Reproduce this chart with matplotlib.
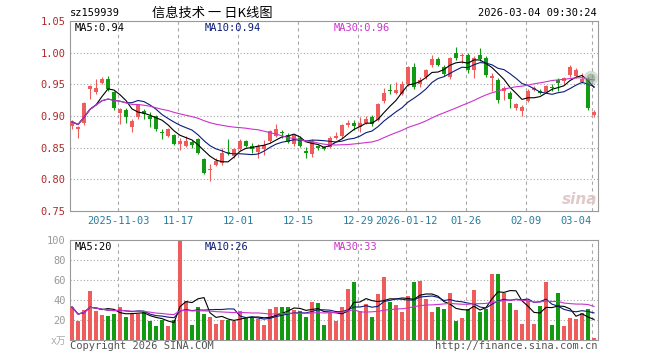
import numpy as np
import pandas as pd
import matplotlib
matplotlib.use("Agg")
import matplotlib.pyplot as plt
from matplotlib import transforms

# daily K data
opens = [0.884, 0.880, 0.889, 0.942, 0.938, 0.952, 0.959, 0.938, 0.904, 0.910,
         0.882, 0.899, 0.908, 0.900, 0.900, 0.875, 0.869, 0.870, 0.856, 0.853,
         0.859, 0.863, 0.832, 0.814, 0.822, 0.826, 0.843, 0.837, 0.848, 0.860,
         0.852, 0.843, 0.848, 0.860, 0.869, 0.875, 0.870, 0.856, 0.866, 0.845,
         0.840, 0.852, 0.851, 0.851, 0.866, 0.869, 0.886, 0.889, 0.883, 0.889,
         0.899, 0.894, 0.923, 0.941, 0.936, 0.935, 0.950, 0.978, 0.950, 0.961,
         0.980, 0.990, 0.978, 0.961, 1.000, 0.994, 0.997, 0.973, 0.997, 0.992,
         0.960, 0.957, 0.940, 0.937, 0.913, 0.908, 0.924, 0.941, 0.940, 0.938,
         0.946, 0.957, 0.955, 0.964, 0.963, 0.954, 0.958, 0.902]
closes = [0.891, 0.882, 0.921, 0.948, 0.945, 0.958, 0.942, 0.912, 0.911, 0.899,
          0.892, 0.917, 0.903, 0.895, 0.879, 0.873, 0.880, 0.856, 0.860, 0.860,
          0.855, 0.842, 0.810, 0.816, 0.829, 0.842, 0.841, 0.848, 0.861, 0.853,
          0.848, 0.852, 0.855, 0.876, 0.879, 0.873, 0.859, 0.870, 0.853, 0.841,
          0.861, 0.850, 0.848, 0.866, 0.869, 0.886, 0.889, 0.884, 0.889, 0.895,
          0.887, 0.919, 0.937, 0.939, 0.941, 0.950, 0.978, 0.946, 0.957, 0.973,
          0.990, 0.981, 0.966, 0.991, 0.992, 0.996, 0.972, 0.992, 0.990, 0.965,
          0.963, 0.926, 0.945, 0.927, 0.919, 0.914, 0.939, 0.945, 0.936, 0.947,
          0.944, 0.952, 0.960, 0.977, 0.973, 0.958, 0.912, 0.906]
highs = [0.893, 0.884, 0.922, 0.949, 0.959, 0.961, 0.963, 0.940, 0.913, 0.912,
         0.895, 0.918, 0.911, 0.907, 0.902, 0.879, 0.881, 0.872, 0.866, 0.869,
         0.862, 0.865, 0.833, 0.824, 0.833, 0.849, 0.864, 0.850, 0.863, 0.862,
         0.857, 0.856, 0.862, 0.878, 0.887, 0.878, 0.873, 0.872, 0.868, 0.851,
         0.863, 0.854, 0.853, 0.868, 0.874, 0.888, 0.893, 0.893, 0.898, 0.900,
         0.901, 0.921, 0.944, 0.950, 0.954, 0.955, 0.979, 0.983, 0.962, 0.975,
         0.997, 0.993, 0.981, 0.993, 1.009, 0.999, 1.000, 0.995, 1.007, 0.995,
         0.968, 0.960, 0.948, 0.939, 0.921, 0.918, 0.942, 0.947, 0.943, 0.949,
         0.951, 0.960, 0.962, 0.981, 0.976, 0.968, 0.962, 0.910]
lows = [0.880, 0.866, 0.886, 0.927, 0.935, 0.950, 0.940, 0.909, 0.887, 0.889,
        0.875, 0.896, 0.895, 0.882, 0.876, 0.864, 0.867, 0.854, 0.847, 0.851,
        0.850, 0.840, 0.808, 0.798, 0.821, 0.823, 0.838, 0.834, 0.846, 0.851,
        0.842, 0.833, 0.838, 0.858, 0.867, 0.866, 0.857, 0.852, 0.851, 0.834,
        0.835, 0.847, 0.846, 0.849, 0.864, 0.866, 0.882, 0.878, 0.875, 0.887,
        0.885, 0.892, 0.921, 0.934, 0.934, 0.933, 0.948, 0.942, 0.946, 0.958,
        0.978, 0.979, 0.963, 0.958, 0.989, 0.983, 0.968, 0.960, 0.987, 0.962,
        0.940, 0.920, 0.925, 0.913, 0.910, 0.900, 0.922, 0.939, 0.934, 0.936,
        0.940, 0.940, 0.950, 0.962, 0.960, 0.952, 0.910, 0.899]
volumes = [33, 19, 30, 49, 29, 25, 24, 26, 33, 23,
           26, 26, 28, 19, 14, 20, 14, 20, 99, 39,
           15, 33, 26, 23, 16, 20, 20, 19, 29, 23,
           23, 21, 15, 31, 33, 33, 33, 30, 29, 23,
           38, 37, 15, 27, 19, 33, 51, 58, 29, 36,
           23, 46, 63, 38, 35, 28, 44, 58, 59, 41,
           28, 33, 31, 47, 19, 22, 31, 50, 28, 31,
           66, 66, 47, 37, 30, 16, 39, 16, 34, 58,
           15, 47, 14, 22, 21, 27, 31, 2]

tick_idx = [8, 18, 28, 38, 48, 56, 66, 76, 87]
tick_labels = ["2025-11-03", "11-17", "12-01", "12-15", "12-29",
               "2026-01-12", "01-26", "02-09", "03-04"]
price_ticks = [0.75, 0.80, 0.85, 0.90, 0.95, 1.00, 1.05]
vol_ticks = [20, 40, 60, 80, 100]

RED = "#ee5c5c"
GREEN = "#139a13"
MA_COLORS = {5: "#000000", 10: "#0b1c78", 30: "#cc33cc"}
GRID = "#a8a8a8"
MONO = "DejaVu Sans Mono"

df = pd.DataFrame({"open": opens, "close": closes, "high": highs,
                   "low": lows, "vol": volumes})
df["up"] = df["close"] >= df["open"]
df["color"] = np.where(df["up"], RED, GREEN)
x = np.arange(len(df))

W, H = 660, 360
fig = plt.figure(figsize=(W / 100, H / 100), dpi=100)
ax = fig.add_axes([70 / W, 149 / H, 528 / W, 190 / H])
axv = fig.add_axes([70 / W, 20 / H, 528 / W, 100 / H])

xlim = (-2 / 6, 526 / 6)

# -------- PRICE --------
ax.vlines(x, df["low"], df["high"], colors=df["color"], lw=0.8, zorder=3)
body = (df["close"] - df["open"]).abs().clip(lower=0.0012)
ax.bar(x, body, bottom=df[["open", "close"]].min(axis=1), width=0.8,
       color=df["color"], linewidth=0, zorder=4)
for n, c in MA_COLORS.items():
    ax.plot(x, df["close"].rolling(n, min_periods=1).mean(), color=c, lw=0.8, zorder=5)

# the blurred "current" marker at the right edge
ax.scatter([86.5], [0.960], s=110, color="#8fa88f", alpha=0.35, edgecolors="none", zorder=6)
ax.scatter([86.5], [0.960], s=40, color="#6f906f", alpha=0.45, edgecolors="none", zorder=6)

ax.set_xlim(*xlim)
ax.set_ylim(0.75, 1.05)
ax.set_yticks(price_ticks)
ax.set_yticklabels([f"{t:.2f}" for t in price_ticks], fontsize=7.5, family=MONO)
ax.tick_params(axis="y", length=0, pad=3, labelcolor="#b02a2a")
ax.set_xticks([])
for t in price_ticks[1:-1]:
    ax.axhline(t, color=GRID, lw=0.8, ls=(0, (1, 2)), zorder=1)

trans = transforms.blended_transform_factory(ax.transData, ax.transAxes)
for i, lab in zip(tick_idx, tick_labels):
    gx = i - 2 / 6
    ax.axvline(gx, color=GRID, lw=0.8, ls=(0, (3, 3)), zorder=1)
    ha = "right" if i == tick_idx[-1] else "center"
    ax.text(gx, -0.055, lab, transform=trans, ha=ha, va="center",
            fontsize=7.5, family=MONO, color="#2a7c9c")

ax.text(5 / 528, 1 - 7 / 190, "MA5:0.94", transform=ax.transAxes, fontsize=7.5,
        family=MONO, color=MA_COLORS[5], va="center")
ax.text(135 / 528, 1 - 7 / 190, "MA10:0.94", transform=ax.transAxes, fontsize=7.5,
        family=MONO, color=MA_COLORS[10], va="center")
ax.text(264 / 528, 1 - 7 / 190, "MA30:0.96", transform=ax.transAxes, fontsize=7.5,
        family=MONO, color=MA_COLORS[30], va="center")

# -------- VOLUME --------
axv.bar(x, df["vol"], width=0.8, color=df["color"], linewidth=0, zorder=3)
for n, c in MA_COLORS.items():
    axv.plot(x, df["vol"].rolling(n, min_periods=1).mean(), color=c, lw=0.8, zorder=4)
axv.set_xlim(*xlim)
axv.set_ylim(0, 100)
axv.set_yticks(vol_ticks)
axv.set_yticklabels([str(t) for t in vol_ticks], fontsize=7.5, family=MONO)
axv.tick_params(axis="y", length=0, pad=3, labelcolor="#999999")
axv.set_xticks([])
for t in vol_ticks[:-1]:
    axv.axhline(t, color=GRID, lw=0.8, ls=(0, (1, 2)), zorder=1)
for i in tick_idx:
    axv.axvline(i - 2 / 6, color=GRID, lw=0.8, ls=(0, (3, 3)), zorder=1)

axv.text(5 / 528, 1 - 7 / 100, "MA5:20", transform=axv.transAxes, fontsize=7.5,
         family=MONO, color=MA_COLORS[5], va="center")
axv.text(135 / 528, 1 - 7 / 100, "MA10:26", transform=axv.transAxes, fontsize=7.5,
         family=MONO, color=MA_COLORS[10], va="center")
axv.text(264 / 528, 1 - 7 / 100, "MA30:33", transform=axv.transAxes, fontsize=7.5,
         family=MONO, color=MA_COLORS[30], va="center")

for a in (ax, axv):
    for s in a.spines.values():
        s.set_color("#999999")
        s.set_linewidth(0.8)

# -------- HEADER / FOOTER --------
fig.text(70 / W, 1 - 13 / H, "sz159939", fontsize=7.5, family=MONO, va="center")
fig.text(152 / W, 1 - 13 / H, "信息技术 一 日K线图", fontsize=9.5,
         family=["Noto Sans CJK SC", "DejaVu Sans"], va="center")
fig.text(597 / W, 1 - 13 / H, "2026-03-04 09:30:24", fontsize=7.5, family=MONO,
         va="center", ha="right")
fig.text(66 / W, 1 - 341 / H, "x万", fontsize=7, family=[MONO, "Noto Sans CJK SC"],
         va="center", ha="right", color="#aaaaaa")
fig.text(70 / W, 1 - 346 / H, "Copyright 2026 SINA.COM", fontsize=7.5, family=MONO,
         va="center", color="#555555")
fig.text(597 / W, 1 - 346 / H, "http://finance.sina.com.cn", fontsize=7.5, family=MONO,
         va="center", ha="right", color="#555555")
fig.text(580 / W, 1 - 199 / H, "sina", fontsize=11, style="italic", weight="bold",
         color="#e2c9c9", va="center", ha="center")

fig.savefig("out.png", dpi=100)
